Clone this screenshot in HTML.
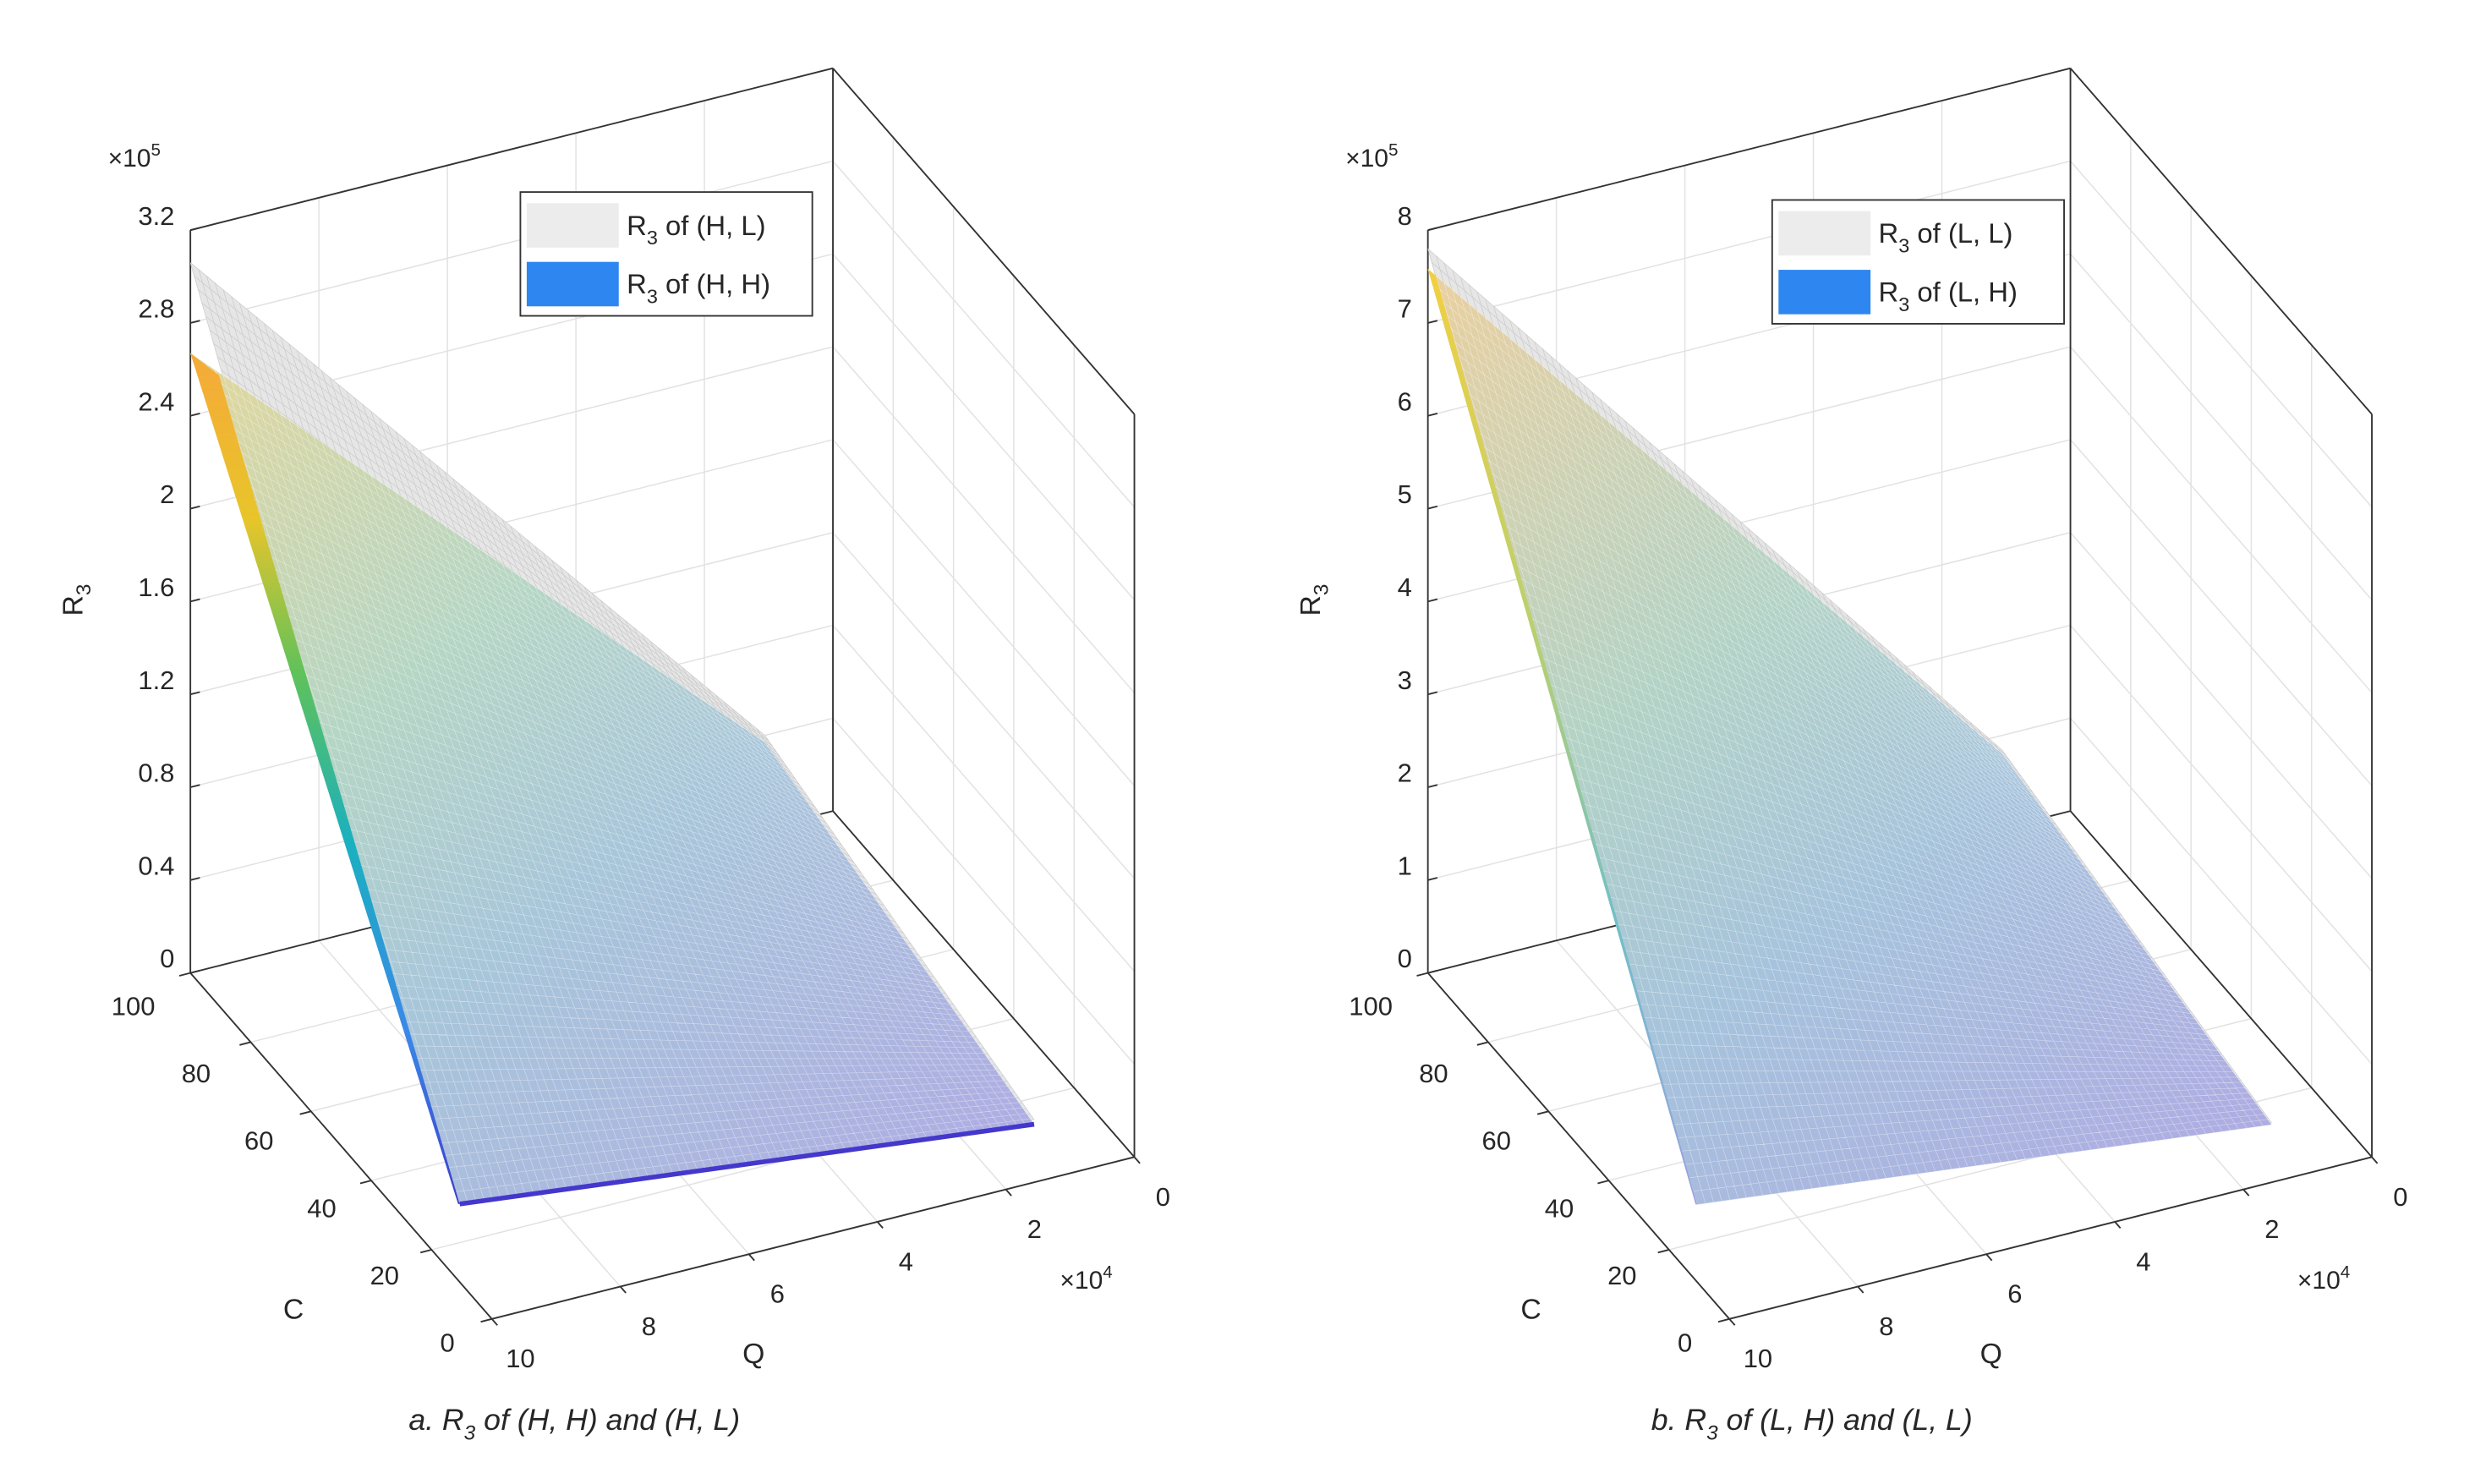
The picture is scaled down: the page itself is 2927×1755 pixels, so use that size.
<!DOCTYPE html>
<html><head><meta charset="utf-8">
<style>
html,body{margin:0;padding:0;background:#fff;}
svg{display:block;font-family:"Liberation Sans",Arial,sans-serif;}
</style></head>
<body>
<svg id="fig" width="2927" height="1755" viewBox="0 0 1560 935" preserveAspectRatio="none" xmlns="http://www.w3.org/2000/svg">
<defs>
<linearGradient id="surfA" gradientUnits="userSpaceOnUse" x1="130" y1="210" x2="560" y2="760">
<stop offset="0" stop-color="#e3d79c"/><stop offset="0.35" stop-color="#b6d6c4"/><stop offset="0.6" stop-color="#a8c6da"/><stop offset="1" stop-color="#aeaee2"/></linearGradient>
<linearGradient id="surfB" gradientUnits="userSpaceOnUse" x1="910" y1="170" x2="1340" y2="760">
<stop offset="0" stop-color="#ead0a0"/><stop offset="0.4" stop-color="#b3d3c6"/><stop offset="0.65" stop-color="#a6c3dc"/><stop offset="1" stop-color="#aeade2"/></linearGradient>
<linearGradient id="edgeA" gradientUnits="userSpaceOnUse" x1="0" y1="219" x2="0" y2="759">
<stop offset="0" stop-color="#f6a83a"/><stop offset="0.2" stop-color="#e8c52a"/><stop offset="0.38" stop-color="#5fc25a"/><stop offset="0.58" stop-color="#1ab0c0"/><stop offset="0.8" stop-color="#3a88e8"/><stop offset="1" stop-color="#3c3ccc"/></linearGradient>
<linearGradient id="edgeB" gradientUnits="userSpaceOnUse" x1="0" y1="165" x2="0" y2="759">
<stop offset="0" stop-color="#f2d040"/><stop offset="0.4" stop-color="#b8d070"/><stop offset="0.7" stop-color="#70c0c8"/><stop offset="1" stop-color="#9aa0e0"/></linearGradient>
</defs>
</svg>
<script>
// ---- data ----
const qTicks=[0,2,4,6,8,10];
const cTicks=[0,20,40,60,80,100];
const zTicksA=[0,0.4,0.8,1.2,1.6,2,2.4,2.8,3.2];
const zTicksB=[0,1,2,3,4,5,6,7,8];
const zLabelsA=["0","0.4","0.8","1.2","1.6","2","2.4","2.8","3.2"];
const zLabelsB=["0","1","2","3","4","5","6","7","8"];
// surface corners (Q in 1e4, C, Z in 1e5): A(C=100,Q high), B(C=100,Q low), C(C=0,Q low), D(C=0,Q high)
const surfQ=[10,1.06,1.56,10.5];
const surfC=[100,100,0,0];
const grayZA=[3.06,0.4,0.27,0.53];
const colorZA=[2.67,0.37,0.25,0.53];
const grayZB=[7.8,0.84,0.64,1.32];
const colorZB=[7.58,0.8,0.62,1.32];

const NS="http://www.w3.org/2000/svg";
const svg=document.getElementById('fig');
function mk(tag,attrs,parent){const e=document.createElementNS(NS,tag);for(const k in attrs)e.setAttribute(k,attrs[k]);(parent||svg).appendChild(e);return e;}

function panel(ox,zmax,zTicks,zLabels,grayZ,colorZ,fillId,edgeId,darkBottom,legendTexts,legendPos,caption,capX,name){
  const g=mk('g',{});
  
  
  const P=(Q,C,Z)=>[ox+715-40.5*Q-1.9*C, 729+10.2*Q-2.18*C-468*Z/zmax];
  const line=(a,b,st,w,nm)=>{const l=mk('line',{x1:a[0],y1:a[1],x2:b[0],y2:b[1],stroke:st,'stroke-width':w},g);return l;};
  const grid='#e2e2e2';
  zTicks.forEach(z=>{line(P(10,100,z),P(0,100,z),grid,0.8,'grid-line');line(P(0,100,z),P(0,0,z),grid,0.8,'grid-line');});
  qTicks.forEach(q=>{line(P(q,100,0),P(q,100,zmax),grid,0.8,'grid-line');line(P(q,0,0),P(q,100,0),grid,0.8,'grid-line');});
  cTicks.forEach(c=>{line(P(0,c,0),P(0,c,zmax),grid,0.8,'grid-line');line(P(10,c,0),P(0,c,0),grid,0.8,'grid-line');});
  const bx='#333';
  line(P(10,100,0),P(10,100,zmax),bx,1,'z-axis');
  line(P(10,100,zmax),P(0,100,zmax),bx,1,'box-edge');
  line(P(0,100,0),P(0,100,zmax),bx,1,'box-edge');
  line(P(0,100,zmax),P(0,0,zmax),bx,1,'box-edge');
  line(P(0,0,0),P(0,0,zmax),bx,1,'box-edge');
  line(P(10,100,0),P(0,100,0),bx,1,'box-edge');
  line(P(0,100,0),P(0,0,0),bx,1,'box-edge');
  line(P(10,100,0),P(10,0,0),bx,1,'c-axis');
  line(P(10,0,0),P(0,0,0),bx,1,'q-axis');
  const quad=(Z)=>surfQ.map((q,i)=>P(q,surfC[i],Z[i]));
  const bil=(pts,u,v)=>{const a=pts[0],b=pts[1],c=pts[2],d=pts[3];
    const x=(1-u)*(1-v)*a[0]+u*(1-v)*b[0]+u*v*c[0]+(1-u)*v*d[0];
    const y=(1-u)*(1-v)*a[1]+u*(1-v)*b[1]+u*v*c[1]+(1-u)*v*d[1];return [x,y];};
  const drawSurf=(Z,fill,meshCol,nm)=>{
    const pts=quad(Z);
    const s=mk('polygon',{points:pts.map(p=>p.join(',')).join(' '),fill:fill,stroke:'none'},g);
    
    let d='';const N=70;
    for(let i=0;i<=N;i++){const t=i/N;const a=bil(pts,t,0),b=bil(pts,t,1),c=bil(pts,0,t),e=bil(pts,1,t);
      d+='M'+a[0].toFixed(1)+' '+a[1].toFixed(1)+'L'+b[0].toFixed(1)+' '+b[1].toFixed(1);
      d+='M'+c[0].toFixed(1)+' '+c[1].toFixed(1)+'L'+e[0].toFixed(1)+' '+e[1].toFixed(1);}
    const m=mk('path',{d:d,stroke:meshCol,'stroke-width':0.35,fill:'none'},g);
    
    return pts;};
  drawSurf(grayZ,'#e6e6e6','#c8c8c8','surface-gray');
  const cp=drawSurf(colorZ,'url(#'+fillId+')','rgba(255,255,255,0.45)','surface-colored');
  const eb=mk('polygon',{points:[cp[0],[cp[0][0]+(darkBottom?18:5),cp[0][1]+(darkBottom?14:4)],cp[3],[cp[3][0]-1,cp[3][1]]].map(p=>p.join(',')).join(' '),fill:'url(#'+edgeId+')'},g);
  
  if(darkBottom){line(cp[3],cp[2],'#4438cc',3,'surface-bottom-edge');}
  const txt=(x,y,s,anchor,nm,size)=>{const t=mk('text',{x:x,y:y,'font-size':size||16.5,fill:'#262626','text-anchor':anchor||'middle','dominant-baseline':'central'},g);t.textContent=s;return t;};
  zTicks.forEach((z,i)=>{const p=P(10,100,z);line(p,[p[0]+6,p[1]-1.5],bx,1,'z-tick');txt(p[0]-10,p[1]-9,zLabels[i],'end','z-tick-label');});
  cTicks.forEach(c=>{const p=P(10,c,0);line(p,[p[0]-7,p[1]+1.8],bx,1,'c-tick');txt(p[0]-28-8*c/100,p[1]+15+6*c/100,String(c),'middle','c-tick-label');});
  qTicks.forEach(q=>{const p=P(q,0,0);line(p,[p[0]+3.5,p[1]+4],bx,1,'q-tick');txt(p[0]+18,p[1]+25,String(q),'middle','q-tick-label');});
  const ex=mk('text',{x:ox+68,y:105,'font-size':16,fill:'#262626'},g);ex.innerHTML='×10<tspan dy="-7" font-size="11">5</tspan>';
  
  const ex2=mk('text',{x:ox+668,y:812,'font-size':16,fill:'#262626'},g);ex2.innerHTML='×10<tspan dy="-7" font-size="11">4</tspan>';
  
  txt(ox+185,825,'C','middle','c-axis-title',18);
  txt(ox+475,853,'Q','middle','q-axis-title',18);
  const zt=mk('text',{x:0,y:0,'font-size':18,fill:'#262626','text-anchor':'middle',transform:'translate('+(ox+52)+',378) rotate(-90)'},g);
  zt.innerHTML='R<tspan dy="5" font-size="13">3</tspan>';
  const [lx,ly]=legendPos;
  const lb=mk('rect',{x:lx,y:ly,width:184,height:78,fill:'#fff',stroke:'#333','stroke-width':1},g);
  
  const cols=['#ececec','#2e86f0'];
  legendTexts.forEach((t,i)=>{
    const sw=mk('rect',{x:lx+4,y:ly+7+i*37,width:58,height:28,fill:cols[i]},g);
    
    const te=mk('text',{x:lx+67,y:ly+27+i*37,'font-size':17.5,fill:'#262626'},g);
    te.innerHTML='R<tspan dy="6" font-size="12.5">3</tspan><tspan dy="-6"> of '+t+'</tspan>';
    
  });
  const cap=mk('text',{x:capX,y:901,'font-size':19,'font-style':'italic',fill:'#262626','text-anchor':'middle'},g);
  cap.innerHTML=caption[0]+' R<tspan dy="6" font-size="13">3</tspan><tspan dy="-6"> of '+caption[1]+'</tspan>';
  
}
panel(0,3.2,zTicksA,zLabelsA,grayZA,colorZA,'surfA','edgeA',true,['(H, L)','(H, H)'],[328,121],['a.','(H, H) and (H, L)'],362,'panel-a');
panel(780,8,zTicksB,zLabelsB,grayZB,colorZB,'surfB','edgeB',false,['(L, L)','(L, H)'],[1117,126],['b.','(L, H) and (L, L)'],1142,'panel-b');
</script>
</body></html>
